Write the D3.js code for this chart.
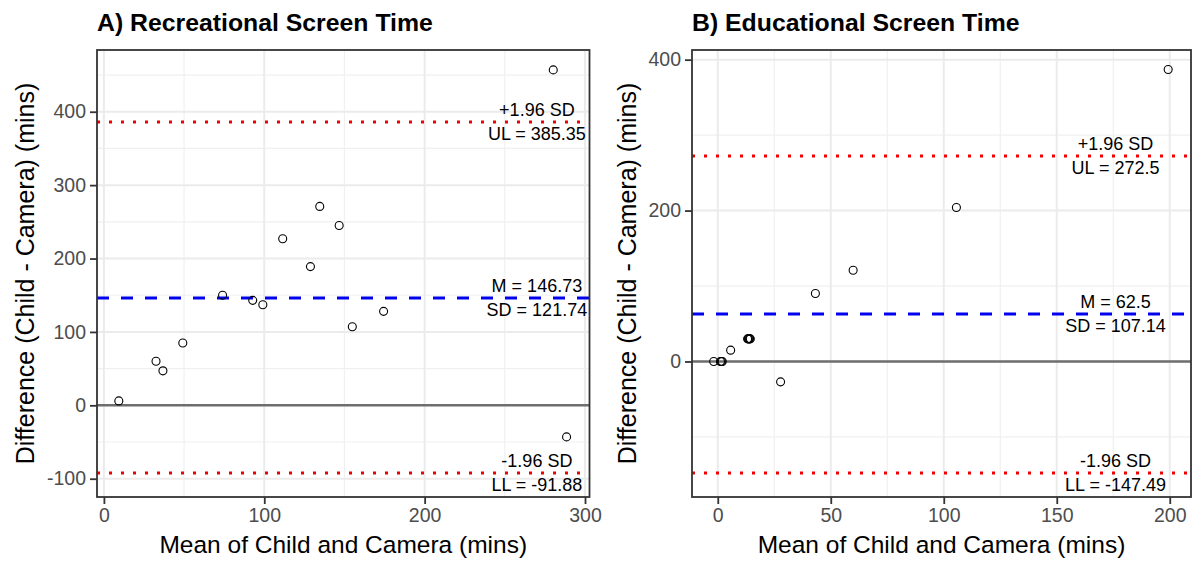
<!DOCTYPE html>
<html>
<head>
<meta charset="utf-8">
<script src="https://cdn.jsdelivr.net/npm/d3@7"></script>
<style>
  body { margin: 0; background: #fff; }
  svg { display: block; font-family: "Liberation Sans", Arial, sans-serif; }
</style>
</head>
<body>
<svg id="chart" width="1193" height="562"></svg>
<script>
// A) recreational screen time
const recMeans = [9.3, 32.5, 36.8, 49.2, 74.0, 92.8, 99.1, 111.5, 128.8, 134.6, 146.7, 154.9, 174.4, 280.2, 288.5];
const recDiffs = [6, 60, 47, 85, 150, 143, 137, 227, 189, 271, 245, 107, 128, 457, -43];
const recStats = {mean: 146.73, sd: 121.74, ul: 385.35, ll: -91.88};

// B) educational screen time
const eduMeans = [-1.8, 1.2, 1.6, 2.0, 13.2, 13.5, 13.8, 14.1, 14.4, 5.7, 27.8, 43.2, 59.9, 105.6, 199.3];
const eduDiffs = [0, 0, 0, 0, 30, 30, 30, 30, 30, 15, -27, 90, 121, 204, 387];
const eduStats = {mean: 62.5, sd: 107.14, ul: 272.5, ll: -147.49};

const recXTicks = [0, 100, 200, 300];
const recYTicks = [-100, 0, 100, 200, 300, 400];
const eduXTicks = [0, 50, 100, 150, 200];
const eduYTicks = [0, 200, 400];

const svg = d3.select("#chart");
svg.append("rect").attr("width", 1193).attr("height", 562).attr("fill", "#fff");

function drawPanel(p) {
  const x = d3.scaleLinear().domain(p.xDomain).range([p.left, p.right]);
  const y = d3.scaleLinear().domain(p.yDomain).range([p.bottom, p.top]);
  const g = svg.append("g");

  // minor grid halfway between majors
  const mid = t => t.slice(1).map((v, i) => (v + t[i]) / 2);
  const xStep = p.xTicks[1] - p.xTicks[0];
  const xMinor = mid([p.xTicks[0] - xStep].concat(p.xTicks, [p.xTicks[p.xTicks.length - 1] + xStep]))
    .filter(v => v > p.xDomain[0] && v < p.xDomain[1]);
  const yStep = p.yTicks[1] - p.yTicks[0];
  const yMinor = mid([p.yTicks[0] - yStep].concat(p.yTicks, [p.yTicks[p.yTicks.length - 1] + yStep]))
    .filter(v => v > p.yDomain[0] && v < p.yDomain[1]);

  g.selectAll(".xminor").data(xMinor).enter().append("line")
    .attr("x1", d => x(d)).attr("x2", d => x(d)).attr("y1", p.top).attr("y2", p.bottom)
    .attr("stroke", "#f0f0f0").attr("stroke-width", 1.2);
  g.selectAll(".yminor").data(yMinor).enter().append("line")
    .attr("y1", d => y(d)).attr("y2", d => y(d)).attr("x1", p.left).attr("x2", p.right)
    .attr("stroke", "#f0f0f0").attr("stroke-width", 1.2);
  g.selectAll(".xmajor").data(p.xTicks).enter().append("line")
    .attr("x1", d => x(d)).attr("x2", d => x(d)).attr("y1", p.top).attr("y2", p.bottom)
    .attr("stroke", "#ebebeb").attr("stroke-width", 2);
  g.selectAll(".ymajor").data(p.yTicks).enter().append("line")
    .attr("y1", d => y(d)).attr("y2", d => y(d)).attr("x1", p.left).attr("x2", p.right)
    .attr("stroke", "#ebebeb").attr("stroke-width", 2);

  // zero line
  g.append("line").attr("x1", p.left).attr("x2", p.right).attr("y1", y(0)).attr("y2", y(0))
    .attr("stroke", "#6e6e6e").attr("stroke-width", 2.6);

  // limits of agreement
  [p.stats.ul, p.stats.ll].forEach(v => {
    const yy = Math.round(y(v));
    g.append("line").attr("x1", p.left).attr("x2", p.right).attr("y1", yy).attr("y2", yy)
      .attr("stroke", "#f00000").attr("stroke-width", 3).attr("stroke-dasharray", "3,9");
  });
  const ym = Math.round(y(p.stats.mean));
  g.append("line").attr("x1", p.left).attr("x2", p.right).attr("y1", ym).attr("y2", ym)
    .attr("stroke", "#0000ee").attr("stroke-width", 3.2).attr("stroke-dasharray", "12,12");

  // points
  g.selectAll("circle").data(p.means).enter().append("circle")
    .attr("cx", d => x(d)).attr("cy", (d, i) => y(p.diffs[i])).attr("r", 4)
    .attr("fill", "none").attr("stroke", "#000").attr("stroke-width", 1.1);

  // annotations
  const labels = [
    [p.stats.ul, "+1.96 SD", "UL = " + p.stats.ul],
    [p.stats.mean, "M = " + p.stats.mean, "SD = " + p.stats.sd],
    [p.stats.ll, "-1.96 SD", "LL = " + p.stats.ll]
  ];
  labels.forEach(l => {
    g.append("text").attr("x", x(p.labelX)).attr("y", y(l[0]) - 6).attr("text-anchor", "middle")
      .attr("font-size", 18).attr("fill", "#000").text(l[1]);
    g.append("text").attr("x", x(p.labelX)).attr("y", y(l[0]) + 18).attr("text-anchor", "middle")
      .attr("font-size", 18).attr("fill", "#000").text(l[2]);
  });

  // border
  g.append("rect").attr("x", p.left).attr("y", p.top)
    .attr("width", p.right - p.left).attr("height", p.bottom - p.top)
    .attr("fill", "none").attr("stroke", "#333").attr("stroke-width", 1.8);

  // axes
  const xAxis = g.append("g").attr("transform", "translate(0," + p.bottom + ")")
    .call(d3.axisBottom(x).tickValues(p.xTicks).tickSize(7).tickPadding(4).tickFormat(d3.format("d")));
  const yAxis = g.append("g").attr("transform", "translate(" + p.left + ",0)")
    .call(d3.axisLeft(y).tickValues(p.yTicks).tickSize(7).tickPadding(4).tickFormat(d => d < 0 ? "-" + Math.abs(d) : d));
  [xAxis, yAxis].forEach(a => {
    a.select(".domain").remove();
    a.selectAll("line").attr("stroke", "#333").attr("stroke-width", 1.8);
    a.selectAll("text").attr("fill", "#4d4d4d").attr("font-size", 19.5)
      .attr("font-family", "Liberation Sans, Arial, sans-serif");
  });

  // titles
  svg.append("text").attr("x", p.left).attr("y", 31).attr("font-size", 24.8).attr("font-weight", "bold")
    .attr("fill", "#000").text(p.title);
  svg.append("text").attr("x", (p.left + p.right) / 2).attr("y", 553).attr("text-anchor", "middle")
    .attr("font-size", 24.5).attr("fill", "#000").text("Mean of Child and Camera (mins)");
  svg.append("text").attr("transform", "translate(" + p.yTitleX + "," + (p.top + p.bottom) / 2 + ") rotate(-90)")
    .attr("text-anchor", "middle").attr("font-size", 25).attr("fill", "#000")
    .text("Difference (Child - Camera) (mins)");
}

drawPanel({
  title: "A) Recreational Screen Time",
  means: recMeans, diffs: recDiffs, stats: recStats,
  xTicks: recXTicks, yTicks: recYTicks,
  xDomain: [-4.3, 302.8], yDomain: [-124.9, 484.1],
  left: 97, right: 589.5, top: 50, bottom: 497,
  labelX: 270, yTitleX: 34
});

drawPanel({
  title: "B) Educational Screen Time",
  means: eduMeans, diffs: eduDiffs, stats: eduStats,
  xTicks: eduXTicks, yTicks: eduYTicks,
  xDomain: [-11.4, 209.4], yDomain: [-179.6, 412.8],
  left: 692, right: 1191, top: 50, bottom: 497,
  labelX: 176, yTitleX: 636
});
</script>
</body>
</html>
